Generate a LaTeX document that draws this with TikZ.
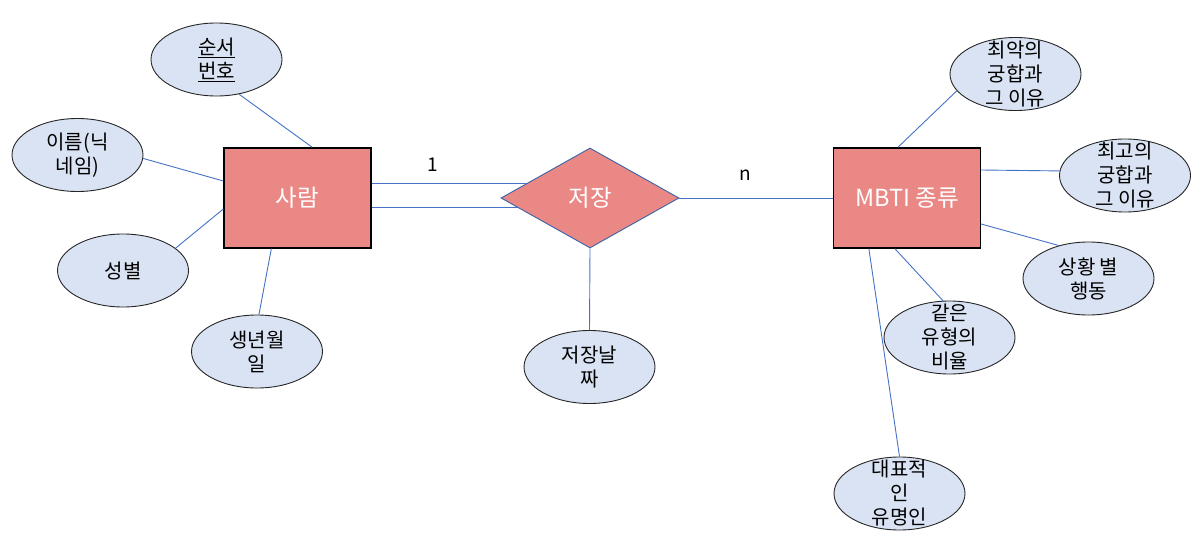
\documentclass[tikz,border=0pt]{standalone}
\usepackage{fontspec}
\setmainfont{Noto Sans CJK KR}
\usetikzlibrary{shapes.geometric,calc}
\definecolor{linkblue}{HTML}{4472C4}
\definecolor{diamondblue}{HTML}{3A62A8}
\definecolor{attrfill}{HTML}{DAE3F3}
\definecolor{entfill}{HTML}{EA8886}
\tikzset{
  attr/.style={ellipse, draw=black!85, line width=0.9pt, fill=attrfill,
    minimum width=131pt, minimum height=73pt, inner sep=0pt},
  attrtext/.style={align=center, inner sep=0pt, font=\fontsize{20}{24}\selectfont},
  entity/.style={rectangle, draw=black, line width=1.3pt, fill=entfill,
    minimum width=147pt, minimum height=100pt, inner sep=0pt,
    text=white, font=\fontsize{23.5}{27}\selectfont},
  relship/.style={diamond, draw=diamondblue, line width=0.9pt, fill=entfill,
    minimum width=178pt, minimum height=100pt, inner sep=0pt, aspect=1.78,
    text=white, font=\fontsize{23.5}{27}\selectfont},
  link/.style={draw=linkblue, line width=0.9pt},
  card/.style={font=\fontsize{19}{22}\selectfont, inner sep=0pt}
}
\begin{document}
\begin{tikzpicture}[x=1pt,y=-1pt]
\useasboundingbox (0,0) rectangle (1204,551);
% entities and relationship
\node[entity] (person) at (297.5,198) {사람};
\node[entity] (mbti) at (907,198) {MBTI 종류};
\node[relship] (rel) at (590,198) {저장};
% attributes
\node[attr, label={[attrtext]center:\underline{순서}\\\underline{번호}}] (seq) at (216.5,59.5) {};
\node[attr, label={[attrtext]center:이름(닉\\네임)}] (nick) at (77.5,155) {};
\node[attr, label={[attrtext]center:성별}] (sex) at (123,270.5) {};
\node[attr, label={[attrtext]center:생년월\\일}] (birth) at (257,351.5) {};
\node[attr, label={[attrtext]center:저장날\\짜}] (date) at (589.5,367) {};
\node[attr, label={[attrtext]center:최악의\\궁합과\\그 이유}] (worst) at (1015.5,74) {};
\node[attr, label={[attrtext]center:최고의\\궁합과\\그 이유}] (best) at (1125,175.5) {};
\node[attr, label={[attrtext]center:상황 별\\행동}] (sit) at (1088.5,278.5) {};
\node[attr, label={[attrtext]center:같은\\유형의\\비율}] (same) at (949.5,337.5) {};
\node[attr, label={[attrtext]center:대표적\\인\\유명인}] (famous) at (899.5,493.5) {};
% cardinalities
\node[card] (one) at (433,165) {1};
\node[card] (many) at (745,175) {n};
% connectors: person attributes
\draw[link] (seq.-57) -- ($(person.north west)+(89,0)$);
\draw[link] (nick.-3) -- ($(person.west)+(0,-17)$);
\draw[link] (sex.23) -- ($(person.west)+(0,11)$);
\draw[link] (birth.87) -- ($(person.south west)+(48,0)$);
% person -- relationship (double line)
\draw[link] (rel.167.7 -| person.east) -- (rel.167.7);
\draw[link] (rel.187 -| person.east) -- (rel.187);
% relationship -- mbti
\draw[link] (rel.east) -- (mbti.west);
\draw[link] (rel.south) -- (date.north);
% mbti attributes
\draw[link] (worst.196) -- ($(mbti.north west)+(65,0)$);
\draw[link] (best.176) -- ($(mbti.east)+(0,-28)$);
\draw[link] (sit.132) -- ($(mbti.east)+(0,26)$);
\draw[link] (same.100) -- ($(mbti.south west)+(62,0)$);
\draw[link] (famous.north) -- ($(mbti.south west)+(36,0)$);
\end{tikzpicture}
\end{document}
